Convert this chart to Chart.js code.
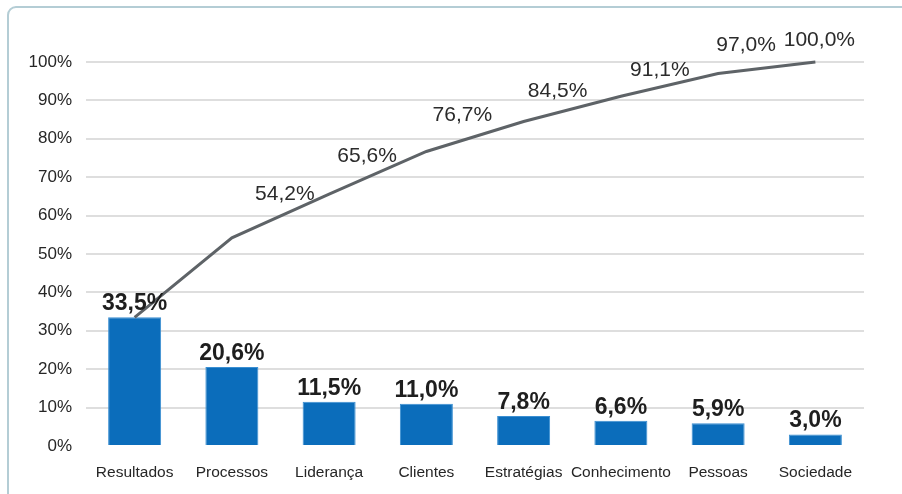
<!DOCTYPE html>
<html lang="pt">
<head>
<meta charset="utf-8">
<title>Pareto</title>
<script src="https://cdn.jsdelivr.net/npm/chart.js@4/dist/chart.umd.min.js"></script>
<style>
  html, body { margin: 0; padding: 0; background: #ffffff; overflow: hidden; }
  #wrap { position: relative; width: 902px; height: 494px; overflow: hidden; }
  #frame {
    position: absolute; left: 7px; top: 6px; width: 1000px; height: 700px;
    border: 2px solid #b4cdd5; border-radius: 9px; box-sizing: border-box;
  }
  #chart { position: absolute; left: 0; top: 0; }
</style>
</head>
<body>
<div id="wrap">
  <div id="frame"></div>
  <canvas id="chart" width="902" height="494"></canvas>
</div>
<script>
// Categories, share of each category (%) and the running total (%)
const categories = ['Resultados', 'Processos', 'Liderança', 'Clientes', 'Estratégias', 'Conhecimento', 'Pessoas', 'Sociedade'];
const shares = [33.5, 20.6, 11.5, 11.0, 7.8, 6.6, 5.9, 3.0];
const cumulative = [33.5, 54.2, 65.6, 76.7, 84.5, 91.1, 97.0, 100.0];
const yTicks = [0, 10, 20, 30, 40, 50, 60, 70, 80, 90, 100];

const fontFamily = '"Liberation Sans", Arial, sans-serif';
const fmt = v => v.toFixed(1).replace('.', ',') + '%';

// Offsets of the running-total labels from their line points (px)
const lineLabelShift = [null, [53, -44], [38, -38], [36, -36], [34, -30], [39, -26], [28, -28], [4, -22]];

const valueLabels = {
  id: 'valueLabels',
  afterDatasetsDraw(chart) {
    const ctx = chart.ctx;
    ctx.save();
    // bar values, bold, above each bar
    const barMeta = chart.getDatasetMeta(1);
    ctx.fillStyle = '#1e1e1e';
    ctx.font = 'bold 23px ' + fontFamily;
    ctx.textAlign = 'center';
    ctx.textBaseline = 'alphabetic';
    barMeta.data.forEach((el, i) => {
      ctx.fillText(fmt(shares[i]), el.x, el.y - 7);
    });
    // running totals along the line
    const lineMeta = chart.getDatasetMeta(0);
    ctx.fillStyle = '#2b2b2b';
    ctx.font = '21px ' + fontFamily;
    ctx.textBaseline = 'middle';
    lineMeta.data.forEach((pt, i) => {
      const s = lineLabelShift[i];
      if (!s) return;
      ctx.fillText(fmt(cumulative[i]), pt.x + s[0], pt.y + s[1]);
    });
    ctx.restore();
  }
};

new Chart(document.getElementById('chart'), {
  type: 'bar',
  data: {
    labels: categories,
    datasets: [
      {
        type: 'line',
        data: cumulative,
        borderColor: '#5e6367',
        borderWidth: 3,
        pointRadius: 0,
        tension: 0,
        clip: false,
        order: 0
      },
      {
        type: 'bar',
        data: shares,
        backgroundColor: '#0b6dbb',
        borderColor: '#3b8fd2',
        borderWidth: 1,
        categoryPercentage: 1,
        barPercentage: 0.545,
        order: 1
      }
    ]
  },
  options: {
    responsive: false,
    animation: false,
    events: [],
    layout: { padding: { top: 62, right: 38, left: 0, bottom: 0 } },
    plugins: { legend: { display: false }, tooltip: { enabled: false } },
    scales: {
      x: {
        grid: { display: false },
        border: { display: false },
        ticks: {
          color: '#262626',
          padding: 9,
          maxRotation: 0,
          autoSkip: false,
          font: { family: fontFamily, size: 15.5 }
        },
        afterFit(scale) { scale.height = 48; }
      },
      y: {
        min: 0,
        max: 100,
        afterBuildTicks(scale) { scale.ticks = yTicks.map(v => ({ value: v })); },
        grid: {
          drawTicks: false,
          lineWidth: 2,
          color: c => (c.tick && c.tick.value === 0 ? 'rgba(0,0,0,0)' : '#dedede')
        },
        border: { display: false },
        ticks: {
          color: '#262626',
          padding: 14,
          font: { family: fontFamily, size: 17 },
          callback: v => v + '%'
        },
        afterFit(scale) { scale.width = 86; }
      }
    }
  },
  plugins: [valueLabels]
});
</script>
</body>
</html>
